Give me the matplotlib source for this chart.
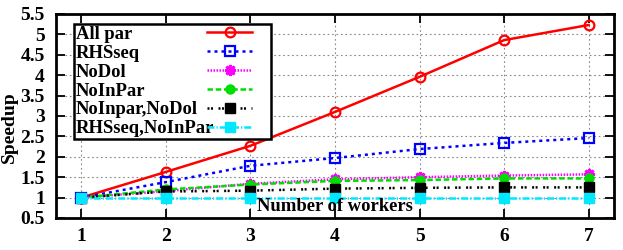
import matplotlib
matplotlib.use("Agg")
import matplotlib.pyplot as plt

workers = [1, 2, 3, 4, 5, 6, 7]
all_par = [1.0, 1.63, 2.27, 3.10, 3.96, 4.86, 5.23]
rhsseq = [1.0, 1.38, 1.78, 1.97, 2.19, 2.34, 2.46]
nodol = [1.0, 1.16, 1.34, 1.45, 1.50, 1.54, 1.57]
noinpar = [1.0, 1.20, 1.32, 1.41, 1.43, 1.47, 1.47]
noinpar_nodol = [1.0, 1.15, 1.17, 1.22, 1.24, 1.25, 1.25]
rhsseq_noinpar = [1.0, 1.0, 1.0, 1.0, 1.0, 1.0, 1.0]

yticks = [0.5, 1, 1.5, 2, 2.5, 3, 3.5, 4, 4.5, 5, 5.5]
ytick_labels = ["0.5", "1", "1.5", "2", "2.5", "3", "3.5", "4", "4.5", "5", "5.5"]

plt.rcParams['font.family'] = ['Liberation Serif', 'DejaVu Serif']
plt.rcParams['font.weight'] = 'bold'

FS = 13.4
TFS = 14

fig = plt.figure(figsize=(6.23, 2.5), dpi=100)
ax = fig.add_axes([0.0899, 0.128, 0.8957, 0.816])

lw = 1.8
ax.plot(workers, all_par, color='#ff0000', ls='-', lw=lw, marker='o', ms=7,
        mfc='none', mec='#ff0000', mew=1.6, label='All par')
ax.plot(workers, rhsseq, color='#0000ff', ls=(0, (1.2, 1.6)), lw=lw, marker='s', ms=7,
        mfc='none', mec='#0000ff', mew=1.6, label='RHSseq')
ax.plot(workers, nodol, color='#ff00ff', ls=(0, (0.6, 0.6)), lw=lw, marker=(8, 2, 0), ms=8,
        mew=2.0, label='NoDol')
ax.plot(workers, noinpar, color='#00dd00', ls=(0, (2.2, 1.1)), lw=lw, marker='o', ms=6.5,
        label='NoInPar')
ax.plot(workers, noinpar_nodol, color='#000000', ls=(0, (0.8, 0.6, 0.8, 2.2)), lw=lw,
        marker='s', ms=6.5, label='NoInpar,NoDol')
ax.plot(workers, rhsseq_noinpar, color='#00e8ff', ls=(0, (2.8, 0.8, 0.5, 0.8)), lw=lw,
        marker='s', ms=7.5, label='RHSseq,NoInPar')

ax.set_xlim(0.7, 7.3)
ax.set_ylim(0.5, 5.5)
ax.set_xticks(workers)
ax.set_xticklabels([str(w) for w in workers], fontsize=TFS, fontweight='bold')
ax.set_yticks(yticks)
ax.set_yticklabels(ytick_labels, fontsize=TFS, fontweight='bold')
ax.tick_params(direction='in', length=6.5, width=1.3, top=True, right=True,
               labeltop=False, labelright=False)
ax.tick_params(axis='x', pad=7.5)
ax.tick_params(axis='y', pad=8)
ax.grid(True, color='#888888', ls=(0, (1.5, 2.5)), lw=0.8)
for s in ax.spines.values():
    s.set_linewidth(2)

ax.set_ylabel('Speedup', fontsize=TFS, fontweight='bold')
ax.yaxis.set_label_coords(-0.068, 0.446)
ax.text(0.5, 0.034, 'Number of workers', transform=ax.transAxes, fontsize=FS,
        fontweight='bold', ha='center', va='baseline')

leg = ax.legend(loc='upper left', bbox_to_anchor=(0.032, 0.951), markerfirst=False,
                fontsize=FS, frameon=True, fancybox=False, framealpha=1,
                edgecolor='black', borderpad=0.1, labelspacing=0.08,
                handlelength=2.4, handletextpad=1.0, borderaxespad=0)
leg.get_frame().set_linewidth(1.8)
for t in leg.get_texts():
    t.set_fontweight('bold')

# left-align the labels and push the line samples to a common right edge
col = leg._legend_handle_box.get_children()[0]
col.align = 'left'
items = col.get_children()
item_w = 181.0
box_w = 193.0
for item in items:
    item.mode = 'expand'
    item.width = item_w
leg._legend_handle_box.width = box_w

target_frame_right = 271.0
target_handle_right = 257.0
target_row_span = 5 * 18.9
px_per_pt = fig.dpi / 72.0
for _ in range(3):
    fig.canvas.draw()
    r = fig.canvas.get_renderer()
    fbb = leg.get_frame().get_window_extent(r)
    hbb = leg.legend_handles[0].get_window_extent(r)
    t0 = leg.get_texts()[0].get_window_extent(r)
    t5 = leg.get_texts()[-1].get_window_extent(r)
    span = t0.y0 - t5.y0
    item_w += target_handle_right - hbb.x1
    box_w += target_frame_right - fbb.x1
    for item in items:
        item.width = item_w
    leg._legend_handle_box.width = box_w
    new_ls = leg.labelspacing + (target_row_span - span) / (5 * FS * px_per_pt)
    leg.labelspacing = new_ls
    col.sep = new_ls * FS

fig.savefig('out.png', dpi=100)
